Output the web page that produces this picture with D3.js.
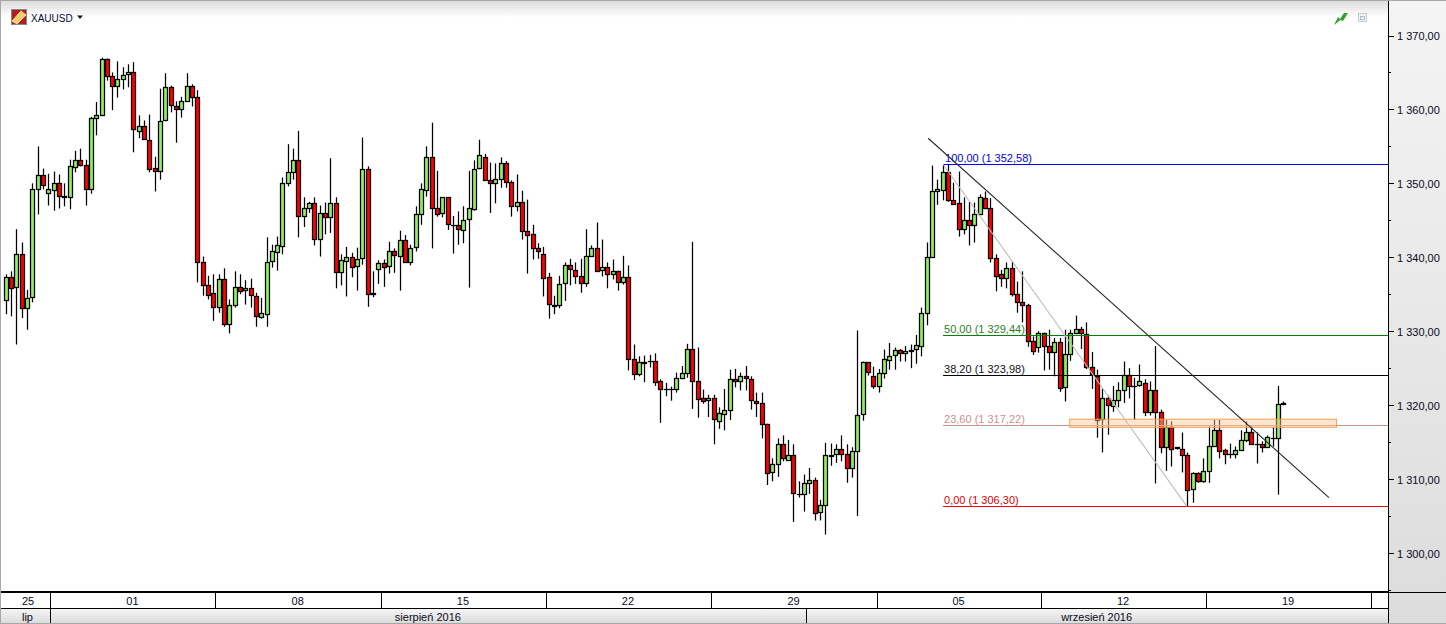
<!DOCTYPE html>
<html><head><meta charset="utf-8">
<style>html,body{margin:0;padding:0;background:#fff;overflow:hidden}svg{display:block}text{font-family:"Liberation Sans",Arial,sans-serif}</style>
<script src="https://cdn.jsdelivr.net/npm/d3@7/dist/d3.min.js"></script>
</head><body><div id="chart"></div>
<script>
const symbol = "XAUUSD";
const opens = [
1334.3,1337.4,1335.9,1340.4,1333.2,1334.6,1349.2,1351.1,1348.6,1349.2,
1350.1,1348.3,1348.1,1352.3,1353.2,1352.5,1349.2,1358.8,1359.2,1366.8,
1364.5,1363.1,1364.1,1364.7,1365.0,1357.1,1357.8,1355.9,1352.1,1351.7,
1358.5,1363.0,1360.5,1360.1,1361.2,1363.2,1361.7,1339.4,1336.3,1335.2,
1333.3,1337.1,1331.0,1333.6,1336.0,1335.5,1335.8,1334.8,1331.8,1332.4,
1339.4,1340.8,1341.6,1350.1,1351.6,1353.2,1345.6,1346.7,1347.4,1342.5,
1346.0,1345.4,1347.3,1338.0,1339.6,1340.1,1338.8,1340.0,1352.0,1335.0,
1338.4,1339.2,1338.8,1340.8,1340.2,1342.4,1339.4,1341.3,1345.8,1349.2,
1353.6,1346.7,1345.9,1348.1,1344.4,1344.4,1343.8,1345.1,1346.6,1352.0,
1353.6,1350.5,1350.1,1350.6,1352.8,1350.2,1346.9,1347.5,1343.6,1343.1,
1341.2,1340.5,1337.3,1333.6,1333.5,1336.4,1338.9,1338.3,1337.5,1336.6,
1340.2,1341.3,1338.3,1338.7,1337.8,1338.2,1336.7,1337.4,1326.3,1324.3,
1325.8,1326.0,1326.0,1323.3,1322.2,1322.2,1322.2,1323.7,1324.4,1327.6,
1323.3,1320.9,1320.6,1320.9,1317.9,1318.9,1319.4,1323.6,1323.3,1324.0,
1323.6,1320.6,1320.3,1317.5,1310.9,1312.0,1314.7,1312.6,1313.3,1308.0,
1308.0,1309.5,1309.9,1305.5,1306.5,1313.2,1313.4,1314.1,1313.4,1311.5,
1313.8,1318.7,1325.8,1323.9,1322.5,1324.3,1326.2,1326.7,1327.4,1327.0,
1327.3,1327.6,1328.0,1332.4,1340.0,1348.9,1349.2,1351.6,1347.8,1347.3,
1343.8,1345.0,1344.3,1345.8,1348.0,1346.6,1339.9,1337.7,1337.1,1338.6,
1335.1,1334.0,1333.6,1328.7,1327.8,1329.7,1328.0,1327.2,1328.6,1322.4,
1326.9,1329.8,1330.3,1329.6,1325.1,1324.0,1318.0,1320.9,1319.9,1320.7,
1322.1,1324.1,1322.6,1322.6,1323.0,1319.1,1322.1,1319.1,1314.4,1317.1,
1314.3,1314.1,1313.3,1308.6,1310.8,1309.8,1311.1,1314.5,1316.7,1313.9,
1313.4,1313.4,1313.9,1315.3,1316.4,1314.8,1314.8,1314.4,1315.6,1315.6,
1320.2];
const highs = [
1337.7,1338.1,1343.8,1342.0,1335.6,1350.0,1355.0,1352.0,1351.3,1351.6,
1351.2,1350.0,1353.2,1354.4,1354.7,1353.2,1359.0,1361.0,1367.0,1366.9,
1365.0,1366.5,1365.7,1366.1,1366.4,1359.2,1358.5,1359.3,1353.6,1362.8,
1364.9,1363.2,1361.1,1361.7,1364.9,1363.4,1362.6,1340.1,1337.5,1337.7,
1337.7,1338.5,1334.3,1338.1,1337.7,1336.9,1337.1,1335.2,1334.5,1342.7,
1341.7,1342.8,1350.8,1355.3,1354.7,1357.1,1348.1,1347.5,1348.1,1347.0,
1347.4,1353.4,1348.1,1340.4,1341.4,1340.6,1341.3,1356.2,1352.3,1338.1,
1339.6,1339.7,1342.1,1341.2,1343.6,1343.0,1341.7,1346.9,1350.0,1355.0,
1358.2,1351.7,1348.1,1348.1,1345.6,1346.2,1346.9,1351.7,1353.1,1355.9,
1354.0,1352.8,1352.7,1353.5,1353.0,1350.4,1351.2,1349.0,1347.8,1344.4,
1341.9,1341.4,1337.9,1334.8,1337.5,1339.3,1339.8,1339.3,1339.8,1343.8,
1341.6,1344.7,1342.4,1339.3,1339.7,1338.2,1340.2,1338.9,1328.2,1326.6,
1326.7,1326.8,1327.0,1323.5,1323.0,1322.5,1324.4,1325.3,1328.3,1342.1,
1327.8,1322.1,1321.4,1321.4,1319.7,1322.2,1324.8,1324.9,1324.4,1325.3,
1323.9,1321.7,1321.7,1317.5,1312.8,1315.5,1315.9,1315.3,1314.7,1309.7,
1310.6,1311.5,1310.2,1307.2,1314.9,1314.8,1314.7,1315.9,1314.7,1314.3,
1330.1,1325.9,1325.8,1325.2,1324.9,1327.5,1328.4,1327.8,1327.6,1328.0,
1328.2,1329.5,1333.2,1342.0,1352.4,1350.5,1352.5,1352.5,1350.1,1351.6,
1348.1,1347.5,1347.4,1348.5,1348.9,1348.0,1340.4,1338.3,1339.3,1339.4,
1336.7,1338.1,1333.7,1329.3,1330.0,1329.8,1330.2,1329.1,1329.1,1330.2,
1330.2,1332.1,1330.6,1331.2,1327.2,1324.8,1322.2,1321.3,1322.6,1323.1,
1325.9,1325.0,1323.7,1325.5,1323.5,1323.2,1328.0,1319.4,1318.0,1317.8,
1314.3,1316.3,1313.6,1310.9,1310.9,1312.8,1317.1,1318.0,1318.0,1314.1,
1314.8,1314.4,1316.6,1317.8,1317.1,1316.3,1315.1,1315.9,1317.0,1322.6,
1320.5];
const lows = [
1332.3,1332.0,1328.2,1331.8,1330.2,1333.9,1345.8,1349.2,1347.0,1346.3,
1346.6,1346.9,1346.5,1351.5,1352.3,1347.0,1348.6,1356.5,1359.1,1363.9,
1359.9,1361.6,1362.7,1363.0,1354.2,1356.1,1355.9,1351.5,1348.9,1350.5,
1358.4,1359.6,1355.5,1358.9,1361.1,1360.4,1336.6,1334.8,1334.3,1331.4,
1332.5,1330.6,1329.7,1333.2,1335.0,1333.6,1333.2,1330.6,1331.7,1330.6,
1338.6,1338.2,1340.4,1349.6,1350.5,1342.7,1344.1,1346.0,1341.6,1340.1,
1343.1,1343.3,1335.8,1336.2,1334.7,1337.3,1335.5,1339.0,1333.3,1334.6,
1336.4,1336.0,1337.8,1337.9,1335.5,1339.3,1338.9,1340.8,1344.4,1348.2,
1341.2,1345.5,1345.4,1343.7,1340.5,1341.7,1341.9,1335.9,1346.3,1351.9,
1350.5,1346.0,1347.3,1349.4,1349.4,1345.5,1346.2,1342.4,1337.8,1339.7,
1339.8,1334.7,1331.7,1332.3,1333.1,1334.1,1336.2,1336.4,1335.2,1336.0,
1340.1,1338.2,1337.4,1335.8,1337.0,1335.5,1336.3,1324.7,1323.4,1323.9,
1323.1,1325.1,1322.6,1317.6,1321.2,1320.6,1321.7,1323.5,1323.7,1319.5,
1318.3,1320.2,1318.4,1314.7,1316.8,1316.6,1318.0,1322.4,1322.0,1322.0,
1319.4,1318.4,1315.5,1309.2,1309.7,1310.3,1312.4,1312.5,1304.2,1307.5,
1305.6,1308.0,1304.4,1304.4,1302.5,1311.8,1312.2,1312.4,1309.5,1310.2,
1305.0,1317.9,1324.0,1322.2,1321.7,1323.6,1324.8,1324.8,1325.9,1325.9,
1325.0,1325.6,1326.6,1330.8,1339.9,1347.1,1347.7,1347.5,1347.2,1342.8,
1343.1,1341.6,1342.0,1345.7,1346.5,1339.3,1335.4,1336.0,1335.8,1334.7,
1332.5,1331.2,1327.9,1326.8,1327.1,1324.7,1324.8,1323.9,1321.8,1320.5,
1326.0,1329.7,1327.6,1324.9,1322.2,1315.6,1313.6,1316.0,1319.1,1319.7,
1320.3,1320.9,1318.0,1322.5,1318.5,1318.6,1309.4,1313.5,1311.1,1311.7,
1314.0,1310.9,1306.3,1306.8,1309.5,1309.5,1309.5,1314.4,1312.8,1312.0,
1312.8,1312.8,1313.8,1315.0,1314.8,1312.1,1313.6,1314.2,1314.4,1307.9,
1320.0];
const closes = [
1337.4,1335.9,1340.4,1333.1,1334.5,1349.2,1351.1,1349.7,1349.2,1350.1,
1348.3,1348.1,1352.3,1353.2,1352.5,1349.2,1358.8,1359.2,1366.8,1364.5,
1363.1,1364.1,1364.7,1365.0,1357.3,1357.8,1356.1,1352.0,1351.7,1358.5,
1363.0,1360.5,1360.1,1361.2,1363.2,1361.7,1339.4,1336.3,1335.0,1333.3,
1337.1,1331.0,1333.6,1336.0,1335.5,1335.8,1334.8,1332.1,1332.4,1339.4,
1340.8,1341.7,1350.1,1351.6,1353.2,1345.6,1346.7,1347.4,1342.5,1346.0,
1345.4,1347.3,1337.9,1339.6,1340.1,1338.7,1339.8,1352.0,1335.1,1335.2,
1339.2,1338.7,1340.8,1340.2,1342.4,1339.4,1341.3,1345.8,1349.2,1353.6,
1346.7,1345.9,1348.1,1344.4,1344.4,1343.8,1345.1,1346.6,1352.0,1353.8,
1350.5,1350.1,1350.6,1352.8,1350.2,1346.9,1347.5,1343.6,1343.1,1341.2,
1340.8,1337.3,1333.6,1333.4,1336.4,1338.9,1338.3,1337.5,1336.6,1340.2,
1341.3,1338.2,1338.7,1337.8,1338.2,1336.7,1337.4,1326.3,1324.3,1325.9,
1325.9,1326.0,1323.2,1322.2,1322.2,1322.2,1323.7,1324.4,1327.6,1323.3,
1320.9,1320.5,1320.9,1318.0,1319.0,1319.4,1323.6,1323.3,1324.0,1323.7,
1320.7,1320.3,1317.5,1310.9,1312.0,1314.7,1312.8,1313.3,1308.2,1308.0,
1309.5,1309.9,1305.5,1306.5,1313.2,1313.3,1314.1,1313.4,1311.5,1313.8,
1318.7,1325.8,1324.4,1322.5,1324.3,1326.2,1326.7,1327.4,1327.0,1327.3,
1327.5,1328.2,1332.4,1340.0,1348.9,1349.2,1351.6,1347.8,1347.3,1343.8,
1345.0,1344.3,1345.8,1348.1,1346.6,1339.9,1337.5,1337.1,1338.5,1335.1,
1334.0,1333.6,1328.7,1327.4,1329.7,1327.9,1327.2,1328.6,1322.4,1326.9,
1329.8,1330.3,1329.7,1325.1,1324.1,1318.0,1320.9,1319.9,1320.7,1322.1,
1324.1,1322.6,1322.6,1323.2,1319.1,1322.1,1319.1,1314.4,1317.1,1314.1,
1314.2,1313.3,1308.6,1310.8,1309.7,1311.1,1314.5,1316.7,1313.9,1313.3,
1313.4,1313.9,1315.3,1316.4,1314.8,1314.8,1314.4,1315.7,1315.6,1320.2,
1320.3];
const priceTicks = [1300,1310,1320,1330,1340,1350,1360,1370];
const minorTicks = [1295,1305,1315,1325,1335,1345,1355,1365];
const weekEdges = [8.41,39.41,70.5,101.5,132.5,163.7,194.5,225.5,256.5];
const weekLabels = ["25","01","08","15","22","29","05","12","19"];
const monthEdges = [8.41,150.4];
const monthLabels = ["lip","sierpień 2016","wrzesień 2016"];
const fibLevels = ["100,00","50,00","38,20","23,60","0,00"];
const fibPrices = [1352.58,1329.44,1323.98,1317.22,1306.30];
const fibPriceText = ["1 352,58","1 329,44","1 323,98","1 317,22","1 306,30"];
const fibColors = ["#0000ff","#008000","#000000","#c89090","#ff0000"];
const fibTextColors = ["#0000e0","#2e7d2e","#111111","#cf8f8f","#e00000"];
const fibStart = 176.1;
const trendIdx = [173.3,248.6];
const trendPrice = [1356.1,1307.5];
const swingIdx = [176.1,221.9];
const swingPrice = [1352.58,1306.30];
const zoneIdx = [199.9,250.0];
const zonePrice = [1318.1,1317.0];

const W=1446,H=624,plotR=1388,axisB=592,rowB=608;
const x=d3.scaleLinear().domain([0,240]).range([5.7,1283.2]);
const y=d3.scaleLinear().domain([1300,1370]).range([553,35.5]);
const svg=d3.select("#chart").append("svg").attr("width",W).attr("height",H);
const defs=svg.append("defs");
function grad(id,stops){const g=defs.append("linearGradient").attr("id",id).attr("x1",0).attr("x2",0).attr("y1",0).attr("y2",1);
 stops.forEach(s=>g.append("stop").attr("offset",s[0]).attr("stop-color",s[1]));}
grad("top",[[0,"#dcdcdc"],[1,"#ffffff"]]);
grad("axis",[[0,"#f4f4f4"],[1,"#dcdcdc"]]);
grad("month",[[0,"#f6f6f6"],[1,"#dcdcdc"]]);
defs.append("clipPath").attr("id","plot").append("rect").attr("x",1).attr("y",0).attr("width",plotR-1).attr("height",axisB);

svg.append("rect").attr("width",W).attr("height",H).attr("fill","#fff");
svg.append("rect").attr("x",0).attr("y",1).attr("width",plotR).attr("height",16).attr("fill","url(#top)");
svg.append("rect").attr("x",plotR).attr("y",1).attr("width",W-plotR).attr("height",H-1).attr("fill","url(#axis)");

const plot=svg.append("g").attr("clip-path","url(#plot)");
const idx=d3.range(opens.length);
const crisp=v=>Math.round(v)+0.5;
// wicks
plot.append("g").selectAll("line").data(idx).join("line")
 .attr("x1",i=>crisp(x(i))).attr("x2",i=>crisp(x(i)))
 .attr("y1",i=>y(highs[i])).attr("y2",i=>y(lows[i]))
 .attr("stroke","#000").attr("stroke-width",1.25);
// bodies
const bodyW=4;
plot.append("g").selectAll("rect").data(idx).join("rect")
 .attr("x",i=>crisp(x(i))-bodyW/2)
 .attr("width",bodyW)
 .attr("y",i=>crisp(y(Math.max(opens[i],closes[i]))))
 .attr("height",i=>Math.max(0.01,Math.round(Math.abs(y(opens[i])-y(closes[i])))))
 .attr("fill",i=>closes[i]>=opens[i]?"#90ee60":"#ff0000")
 .attr("stroke","#000").attr("stroke-width",1.25);

// fibonacci levels
const fib=plot.append("g");
fibPrices.forEach((p,k)=>{
 const ly=Math.floor(y(p))+0.5;
 fib.append("line").attr("x1",x(fibStart)).attr("x2",plotR)
  .attr("y1",ly).attr("y2",ly).attr("stroke",fibColors[k]).attr("stroke-width",1);
 fib.append("text").attr("x",x(fibStart)+(k===0?2:1)).attr("y",y(p)-2.5)
  .attr("font-size",11).attr("fill",fibTextColors[k]).text(`${fibLevels[k]} (${fibPriceText[k]})`);
});
// zone
plot.append("rect").attr("x",x(zoneIdx[0])).attr("width",x(zoneIdx[1])-x(zoneIdx[0]))
 .attr("y",y(zonePrice[0])).attr("height",y(zonePrice[1])-y(zonePrice[0]))
 .attr("fill","#ffc89a").attr("fill-opacity",0.45).attr("stroke","#f4a04e").attr("stroke-width",1);
// trend lines
plot.append("line").attr("x1",x(swingIdx[0])).attr("y1",y(swingPrice[0])).attr("x2",x(swingIdx[1])).attr("y2",y(swingPrice[1]))
 .attr("stroke","#bdbdbd").attr("stroke-width",1.1);
plot.append("line").attr("x1",x(trendIdx[0])).attr("y1",y(trendPrice[0])).attr("x2",x(trendIdx[1])).attr("y2",y(trendPrice[1]))
 .attr("stroke","#2a2a2a").attr("stroke-width",1.1);

// price axis
svg.append("line").attr("x1",plotR+.5).attr("x2",plotR+.5).attr("y1",1).attr("y2",H).attr("stroke","#000");
const yAxis=svg.append("g");
yAxis.selectAll("line.maj").data(priceTicks).join("line").attr("class","maj")
 .attr("x1",plotR).attr("x2",plotR+6).attr("y1",d=>crisp(y(d))).attr("y2",d=>crisp(y(d))).attr("stroke","#000");
yAxis.selectAll("line.min").data(minorTicks).join("line").attr("class","min")
 .attr("x1",plotR).attr("x2",plotR+3).attr("y1",d=>crisp(y(d))).attr("y2",d=>crisp(y(d))).attr("stroke","#000");
const fmt=d=>{const s=String(d);return s[0]+" "+s.slice(1)+",00";};
yAxis.selectAll("text").data(priceTicks).join("text").attr("x",1397).attr("y",d=>y(d)+4.5)
 .attr("font-size",11).attr("fill","#0a0a20").text(fmt);

// time axis
svg.append("rect").attr("x",0).attr("y",axisB+1).attr("width",plotR).attr("height",rowB-axisB-1).attr("fill","#fff");
svg.append("rect").attr("x",0).attr("y",rowB).attr("width",plotR).attr("height",H-rowB-1).attr("fill","url(#month)");
svg.append("line").attr("x1",0).attr("x2",W).attr("y1",axisB+.5).attr("y2",axisB+.5).attr("stroke","#000").attr("stroke-width",1);
svg.append("line").attr("x1",0).attr("x2",plotR).attr("y1",axisB).attr("y2",axisB).attr("stroke","#000").attr("stroke-width",2);
svg.append("line").attr("x1",0).attr("x2",plotR).attr("y1",rowB+.5).attr("y2",rowB+.5).attr("stroke","#000");
svg.selectAll("line.wk").data(weekEdges).join("line").attr("class","wk")
 .attr("x1",d=>crisp(x(d))).attr("x2",d=>crisp(x(d))).attr("y1",axisB).attr("y2",rowB).attr("stroke","#000");
const weekBounds=[x(0)-x(0),...weekEdges.map(d=>x(d))];
svg.selectAll("text.wk").data(weekLabels).join("text").attr("class","wk")
 .attr("x",(d,i)=>i===0?28:(weekBounds[i]+weekBounds[i+1])/2-0.5).attr("y",605).attr("text-anchor","middle")
 .attr("font-size",11).attr("fill","#0a0a20").text(d=>d);
svg.selectAll("line.mo").data(monthEdges).join("line").attr("class","mo")
 .attr("x1",d=>crisp(x(d))).attr("x2",d=>crisp(x(d))).attr("y1",rowB).attr("y2",H-1).attr("stroke","#000");
const monthBounds=[5,...monthEdges.map(d=>x(d)),plotR];
svg.selectAll("text.mo").data(monthLabels).join("text").attr("class","mo")
 .attr("x",(d,i)=>i===0?27.5:(monthBounds[i]+monthBounds[i+1])/2-0.5).attr("y",621).attr("text-anchor","middle")
 .attr("font-size",11).attr("fill","#0a0a20").text(d=>d);

// window frame
svg.append("rect").attr("x",0).attr("y",0).attr("width",W).attr("height",1).attr("fill","#a8a8a8");
svg.append("rect").attr("x",0).attr("y",0).attr("width",1).attr("height",H).attr("fill","#a8a8a8");
svg.append("rect").attr("x",0).attr("y",H-1).attr("width",W).attr("height",1).attr("fill","#a8a8a8");

// header
const ic=svg.append("g");
ic.append("rect").attr("x",11.5).attr("y",9.5).attr("width",15).attr("height",15).attr("fill","#b02020").attr("stroke","#888");
ic.append("path").attr("d","M12 21 L21 11 L26 15 L17 24 Z").attr("fill","#f3cf6a").attr("stroke","#fff3c0").attr("stroke-width",.8);
svg.append("text").attr("x",31).attr("y",22).attr("font-size",10).attr("fill","#0a0a30").text(symbol);
svg.append("path").attr("d","M77 15.5 H83 L80 19 Z").attr("fill","#111");
svg.append("path").attr("d","M1334 25 L1338 17 L1340 19 L1344 13 L1348 13 L1343 21 L1340.5 20 Z").attr("fill","#2fa52f");
svg.append("rect").attr("x",1358.5).attr("y",13.5).attr("width",8).attr("height",8).attr("fill","#f0f2f5").attr("stroke","#c5ccd6");
svg.append("rect").attr("x",1360.5).attr("y",16.5).attr("width",4).attr("height",3).attr("fill","none").attr("stroke","#b5bcc6");
</script></body></html>
